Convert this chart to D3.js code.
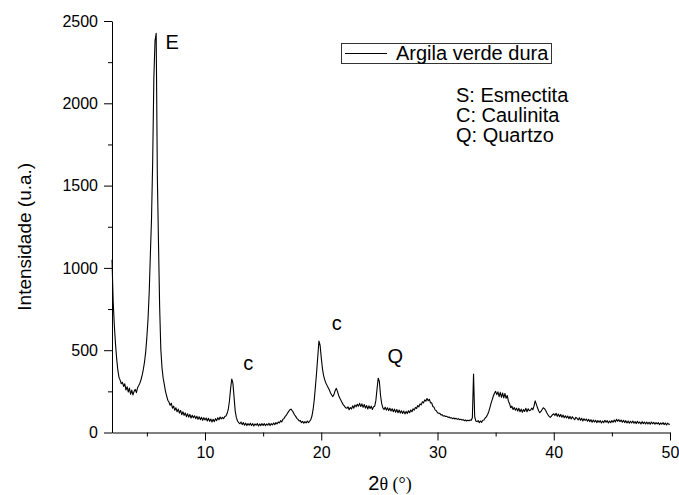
<!DOCTYPE html>
<html>
<head>
<meta charset="utf-8">
<script src="https://cdn.jsdelivr.net/npm/d3@7"></script>
<style>
  body { margin: 0; background: #fff; }
  text { font-family: "Liberation Sans", Arial, sans-serif; fill: #000; }
</style>
</head>
<body>
<div id="container"></div>
<script>
/**
 * CONSTANTS AND GLOBALS
 * */
const width = 679,
  height = 495,
  margin = { top: 21, bottom: 62.5, left: 112, right: 9 }

/**
 * DATA (one row per degree, 0.1 deg step)
 * */
const startDeg = 2.0
const stepDeg = 0.1
const intensity = [
  1050, 800, 650, 540, 450, 380, 335, 318, 296, 305,      // 2
  280, 296, 258, 278, 246, 270, 232, 258, 228, 250,       // 3
  262, 242, 272, 285, 300, 322, 350, 385, 430, 490,       // 4
  580, 690, 850, 1080, 1300, 1650, 2150, 2380, 2425, 1560, // 5
  1150, 760, 505, 395, 330, 292, 250, 222, 196, 185,      // 6
  165, 178, 148, 160, 135, 150, 126, 142, 118, 134,       // 7
  108, 126, 104, 119, 96, 114, 93, 110, 88, 105,          // 8
  90, 102, 84, 99, 80, 96, 78, 92, 74, 90,                // 9
  76, 88, 70, 86, 68, 82, 64, 80, 66, 84,                 // 10
  72, 90, 78, 94, 82, 92, 84, 97, 100, 115,               // 11
  140, 190, 265, 325, 300, 215, 130, 90, 70, 60,          // 12
  53, 64, 48, 60, 44, 57, 42, 54, 44, 56,                 // 13
  42, 54, 40, 52, 44, 55, 40, 52, 42, 54,                 // 14
  43, 54, 41, 52, 44, 56, 42, 54, 46, 58,                 // 15
  48, 60, 52, 64, 58, 72, 64, 80, 85, 98,                 // 16
  105, 118, 128, 138, 142, 132, 122, 108, 98, 86,         // 17
  80, 70, 72, 60, 68, 56, 66, 58, 70, 60,                 // 18
  68, 78, 100, 140, 200, 280, 365, 460, 555, 530,         // 19
  455, 390, 345, 320, 300, 285, 272, 258, 240, 228,       // 20
  218, 232, 255, 268, 248, 225, 208, 195, 180, 168,       // 21
  160, 150, 147, 156, 138, 152, 143, 162, 148, 167,       // 22
  156, 172, 160, 177, 158, 174, 153, 170, 148, 164,       // 23
  143, 162, 146, 160, 140, 157, 160, 195, 265, 330,       // 24
  310, 225, 175, 150, 140, 154, 136, 150, 133, 147,       // 25
  130, 144, 126, 142, 123, 140, 120, 137, 118, 132,       // 26
  116, 130, 113, 128, 115, 132, 120, 137, 126, 144,       // 27
  136, 152, 146, 164, 156, 174, 168, 187, 180, 198,       // 28
  190, 207, 193, 202, 180, 180, 158, 154, 136, 132,       // 29
  120, 117, 116, 107, 108, 100, 102, 97, 98, 92,          // 30
  94, 88, 90, 84, 88, 82, 86, 80, 84, 78,                 // 31
  80, 76, 78, 72, 76, 70, 74, 72, 76, 74,                 // 32
  90, 355, 95, 70, 66, 72, 60, 70, 62, 74,                // 33
  76, 88, 95, 108, 125, 150, 175, 198, 220, 238,          // 34
  250, 230, 247, 218, 244, 213, 240, 210, 237, 208,       // 35
  225, 190, 175, 150, 160, 140, 152, 135, 148, 130,       // 36
  147, 126, 142, 123, 140, 128, 147, 126, 144, 133,       // 37
  135, 148, 138, 160, 192, 172, 150, 132, 120, 128,       // 38
  140, 150, 145, 135, 120, 108, 98, 92, 100, 108,         // 39
  114, 103, 117, 98, 112, 96, 110, 93, 106, 90,           // 40
  102, 88, 100, 84, 98, 82, 96, 86, 78, 92,               // 41
  87, 76, 90, 74, 86, 70, 84, 73, 82, 68,                 // 42
  80, 66, 78, 62, 76, 64, 74, 60, 72, 62,                 // 43
  72, 58, 70, 60, 74, 62, 72, 58, 70, 60,                 // 44
  72, 62, 76, 64, 80, 68, 78, 66, 76, 62,                 // 45
  74, 60, 72, 58, 70, 56, 68, 58, 70, 56,                 // 46
  66, 54, 68, 56, 64, 52, 66, 54, 64, 52,                 // 47
  64, 52, 62, 50, 64, 53, 62, 50, 60, 52,                 // 48
  60, 48, 58, 50, 60, 48, 58, 46, 57, 50,                 // 49
  50                                                      // 50
]

const xTicks = [10, 20, 30, 40, 50]
const xMinorTicks = [5, 15, 25, 35, 45]
const yTicks = [0, 500, 1000, 1500, 2000, 2500]
const yMinorTicks = [250, 750, 1250, 1750, 2250]

const seriesName = 'Argila verde dura'
const phaseKey = ['S: Esmectita', 'C: Caulinita', 'Q: Quartzo']
// peak labels: [2theta, intensity, text]
const peakLabels = [
  [6.6, 2330, 'E'],
  [13.3, 380, 'c'],
  [20.9, 625, 'c'],
  [25.7, 425, 'Q']
]

/**
 * DRAW
 * */
const points = intensity.map((v, i) => [startDeg + i * stepDeg, v])

const svg = d3.select('#container')
  .append('svg')
  .attr('width', width)
  .attr('height', height)

const x = d3.scaleLinear()
  .domain([2, 50])
  .range([margin.left, width - margin.right])

const y = d3.scaleLinear()
  .domain([0, 2500])
  .range([height - margin.bottom, margin.top])

// minor ticks first
svg.append('g')
  .attr('transform', `translate(0,${height - margin.bottom})`)
  .call(d3.axisBottom(x).tickValues(xMinorTicks).tickSize(4).tickFormat(''))
  .call(g => g.select('.domain').remove())
svg.append('g')
  .attr('transform', `translate(${margin.left},0)`)
  .call(d3.axisLeft(y).tickValues(yMinorTicks).tickSize(4).tickFormat(''))
  .call(g => g.select('.domain').remove())

svg.append('g')
  .attr('transform', `translate(0,${height - margin.bottom})`)
  .call(d3.axisBottom(x).tickValues(xTicks).tickFormat(d3.format('d'))
    .tickSize(8).tickSizeOuter(0).tickPadding(6))
svg.append('g')
  .attr('transform', `translate(${margin.left},0)`)
  .call(d3.axisLeft(y).tickValues(yTicks).tickFormat(d3.format('d'))
    .tickSize(8).tickSizeOuter(0).tickPadding(6))

svg.selectAll('.tick text')
  .attr('font-family', '"Liberation Sans", Arial, sans-serif')
  .attr('font-size', 16)
  .attr('fill', '#000')
svg.selectAll('.domain, .tick line').attr('stroke', '#000')

// axis titles
svg.append('text')
  .attr('transform', `translate(31,${(margin.top + height - margin.bottom) / 2 + 10}) rotate(-90)`)
  .attr('text-anchor', 'middle')
  .attr('font-size', 19)
  .text('Intensidade (u.a.)')

const xTitle = svg.append('text')
  .attr('x', 390)
  .attr('y', 490)
  .attr('text-anchor', 'middle')
xTitle.append('tspan').attr('font-size', 20).text('2')
xTitle.append('tspan')
  .attr('font-family', '"Liberation Serif", "Times New Roman", serif')
  .attr('font-size', 18)
  .text('θ (°)')

// the pattern
const line = d3.line()
  .x(d => x(d[0]))
  .y(d => y(d[1]))

svg.append('path')
  .datum(points)
  .attr('fill', 'none')
  .attr('stroke', '#000')
  .attr('stroke-width', 1.1)
  .attr('stroke-linejoin', 'round')
  .attr('d', line)

// peak labels
svg.selectAll('.peak')
  .data(peakLabels)
  .join('text')
  .attr('class', 'peak')
  .attr('x', d => x(d[0]))
  .attr('y', d => y(d[1]))
  .attr('font-size', 20)
  .text(d => d[2])

// legend box
const legend = svg.append('g').attr('transform', 'translate(341,43)')
legend.append('rect')
  .attr('x', 0.5).attr('y', 0.5)
  .attr('width', 210).attr('height', 20)
  .attr('fill', '#fff')
  .attr('stroke', '#333')
legend.append('line')
  .attr('x1', 4).attr('x2', 46)
  .attr('y1', 10.5).attr('y2', 10.5)
  .attr('stroke', '#000')
legend.append('text')
  .attr('x', 55)
  .attr('y', 17)
  .attr('font-size', 20)
  .text(seriesName)

svg.selectAll('.phase')
  .data(phaseKey)
  .join('text')
  .attr('class', 'phase')
  .attr('x', 456)
  .attr('y', (d, i) => 101.5 + i * 20)
  .attr('font-size', 20)
  .text(d => d)
</script>
</body>
</html>
